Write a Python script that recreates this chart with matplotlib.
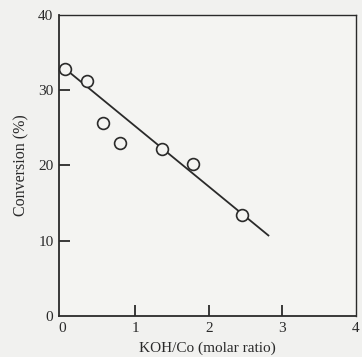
import matplotlib
matplotlib.use("Agg")
import matplotlib.pyplot as plt
import numpy as np

# KOH/Co molar ratio vs conversion
koh_ratio = [0.04, 0.34, 0.56, 0.79, 1.36, 1.78, 2.45]
conversion = [32.8, 31.2, 25.7, 23.0, 22.2, 20.2, 13.4]

# fitted trend line endpoints
fit_x = [0.0, 2.81]
fit_y = [33.2, 10.7]

x_ticks = [0, 1, 2, 3, 4]
y_ticks = [0, 10, 20, 30, 40]

plt.rcParams['font.family'] = ['Liberation Serif', 'DejaVu Serif']

fig = plt.figure(figsize=(3.62, 3.57), dpi=100, facecolor='#f1f1ef')
ax = fig.add_axes([0.163, 0.115, 0.82, 0.843])
ax.set_facecolor('#f4f4f2')

ink = '#2a2a2a'
ax.plot(fit_x, fit_y, color=ink, lw=1.3, zorder=2)
ax.plot(koh_ratio, conversion, 'o', ms=8.5, mfc='#f4f4f2', mec=ink, mew=1.2,
        zorder=3, clip_on=False)

ax.set_xlim(-0.04, 3.92)
ax.set_ylim(0, 40)
ax.set_xticks(x_ticks)
ax.set_yticks(y_ticks)
ax.tick_params(direction='in', length=8, width=1.3, colors=ink,
               labelsize=11, pad=4)
ax.tick_params(axis='x', pad=4)

# end ticks sit on the frame, so hide their marks
xt = ax.xaxis.get_major_ticks()
for t in (xt[0], xt[-1]):
    t.tick1line.set_visible(False)
yt = ax.yaxis.get_major_ticks()
for t in (yt[0], yt[-1]):
    t.tick1line.set_visible(False)

for s in ax.spines.values():
    s.set_color(ink)
    s.set_linewidth(1.3)
ax.spines['top'].set_linewidth(1.0)
ax.spines['right'].set_linewidth(1.0)

ax.set_xlabel('KOH/Co (molar ratio)', fontsize=11, color=ink, labelpad=5)
ax.set_ylabel('Conversion (%)', fontsize=11.5, color=ink, labelpad=6)

fig.savefig('out.png', dpi=100, facecolor=fig.get_facecolor())
